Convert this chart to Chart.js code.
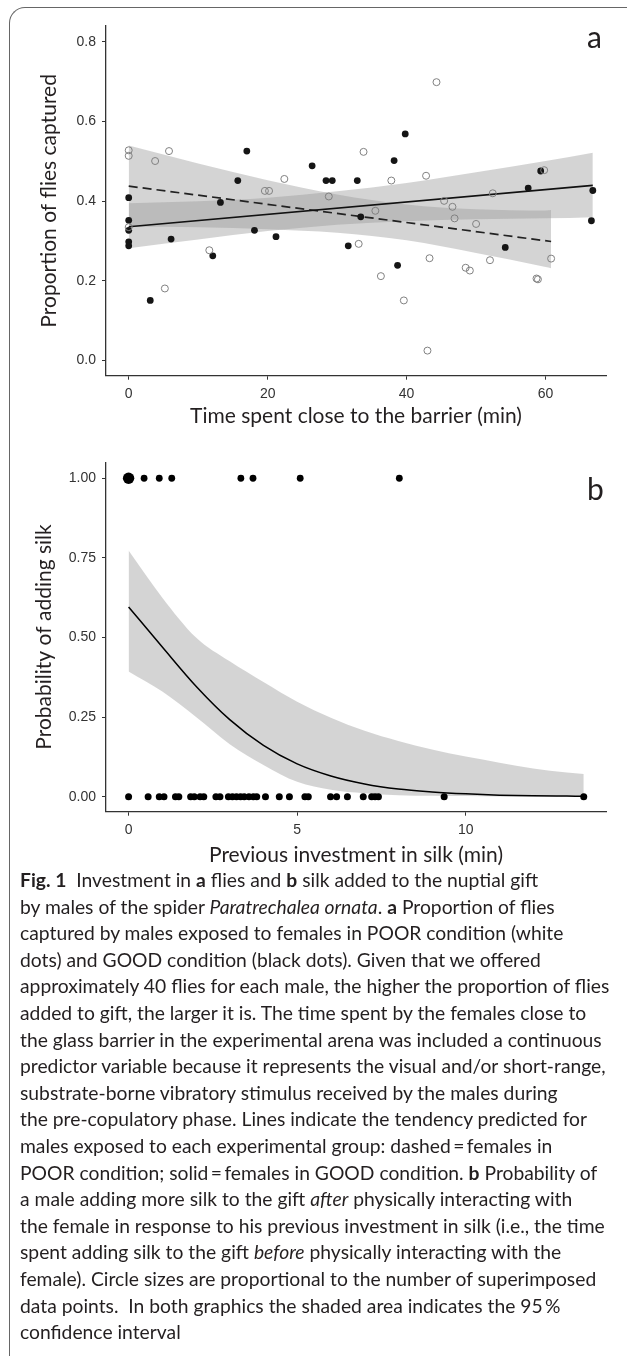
<!DOCTYPE html>
<html>
<head>
<meta charset="utf-8">
<script src="https://cdn.jsdelivr.net/npm/chart.js@4.4.0/dist/chart.umd.min.js"></script>
<style>
  html, body { margin: 0; padding: 0; background: #fff; }
  body { width: 627px; height: 1356px; position: relative; overflow: hidden; }
  .frame { position: absolute; left: 9px; top: 7px; width: 700px; height: 1400px;
           border-left: 1.5px solid #666; border-top: 1.5px solid #666; border-top-left-radius: 16px; }
  canvas { position: absolute; left: 0; }
  #myChart-a { top: 0; }
  #myChart-b { top: 430px; }
  .panel { position: absolute; font-family: Lato, sans-serif; font-size: 30px; line-height: 1; color: #231f20; }
  .caption { position: absolute; left: 20px; top: 867px; font-family: Lato, sans-serif; font-size: 19.3px;
             line-height: 26.6px; color: #231f20; white-space: nowrap; }
</style>
</head>
<body>
<div class="frame"></div>
<canvas id="myChart-a" width="627" height="430"></canvas>
<canvas id="myChart-b" width="627" height="445"></canvas>
<div class="panel" style="left:587px; top:21px;">a</div>
<div class="panel" style="left:587px; top:473px;">b</div>
<div class="caption">
<div><b>Fig. 1</b>&nbsp; Investment in <b>a</b> flies and <b>b</b> silk added to the nuptial gift</div>
<div>by males of the spider <i>Paratrechalea ornata</i>. <b>a</b> Proportion of flies</div>
<div>captured by males exposed to females in POOR condition (white</div>
<div>dots) and GOOD condition (black dots). Given that we offered</div>
<div>approximately 40 flies for each male, the higher the proportion of flies</div>
<div>added to gift, the larger it is. The time spent by the females close to</div>
<div>the glass barrier in the experimental arena was included a continuous</div>
<div>predictor variable because it represents the visual and/or short-range,</div>
<div>substrate-borne vibratory stimulus received by the males during</div>
<div>the pre-copulatory phase. Lines indicate the tendency predicted for</div>
<div>males exposed to each experimental group: dashed&thinsp;=&thinsp;females in</div>
<div>POOR condition; solid&thinsp;=&thinsp;females in GOOD condition. <b>b</b> Probability of</div>
<div>a male adding more silk to the gift <i>after</i> physically interacting with</div>
<div>the female in response to his previous investment in silk (i.e., the time</div>
<div>spent adding silk to the gift <i>before</i> physically interacting with the</div>
<div>female). Circle sizes are proportional to the number of superimposed</div>
<div>data points.&nbsp; In both graphics the shaded area indicates the 95&thinsp;%</div>
<div>confidence interval</div>
</div>

<script>
// ---- panel a: proportion of flies captured vs time near barrier
var poorX = [0, 0, 0, 3.8, 5.2, 5.8, 11.6, 19.6, 20.2, 22.4, 28.8, 33.1, 33.8, 35.5, 36.3, 37.8, 39.6,
             42.8, 43.0, 43.3, 44.3, 45.4, 46.6, 46.9, 48.5, 49.1, 50.0, 52.0, 52.4, 58.7, 58.9, 59.8, 60.8];
var poorY = [0.528, 0.514, 0.335, 0.501, 0.181, 0.526, 0.277, 0.426, 0.426, 0.456, 0.412, 0.293, 0.524, 0.376, 0.212, 0.452, 0.151,
             0.464, 0.025, 0.257, 0.699, 0.401, 0.386, 0.357, 0.233, 0.226, 0.343, 0.252, 0.420, 0.206, 0.204, 0.478, 0.256];
var goodX = [0, 0, 0, 0, 0, 3.1, 6.1, 12.1, 13.2, 15.7, 17.0, 18.1, 21.2, 26.4, 28.4, 29.3, 31.6, 32.9,
             33.4, 38.2, 38.7, 39.8, 54.2, 57.5, 59.3, 66.6, 66.8];
var goodY = [0.409, 0.352, 0.327, 0.298, 0.288, 0.151, 0.305, 0.263, 0.397, 0.452, 0.526, 0.327, 0.311, 0.489, 0.452, 0.452, 0.288, 0.452,
             0.361, 0.502, 0.239, 0.569, 0.284, 0.433, 0.476, 0.351, 0.427];

var goodFitX = [0, 66.8];
var goodFitY = [0.336, 0.440];
var poorFitX = [0, 60.8];
var poorFitY = [0.438, 0.299];

var goodBandX = [0, 10, 20, 30, 40, 50, 60, 66.8];
var goodUpper = [0.395, 0.400, 0.409, 0.425, 0.446, 0.473, 0.501, 0.522];
var goodLower = [0.282, 0.304, 0.325, 0.341, 0.350, 0.355, 0.357, 0.360];
var poorBandX = [0, 10, 20, 30, 40, 50, 60, 60.8];
var poorUpper = [0.540, 0.495, 0.453, 0.417, 0.392, 0.380, 0.377, 0.378];
var poorLower = [0.336, 0.335, 0.330, 0.321, 0.302, 0.270, 0.235, 0.232];

var xTicksA = [0, 20, 40, 60];
var yTicksA = [0, 0.2, 0.4, 0.6, 0.8];

// ---- panel b: probability of adding silk vs previous investment
var silkYesX = [0, 0.46, 0.91, 1.28, 3.33, 3.69, 5.09, 8.03];
var silkYesN = [2, 1, 1, 1, 1, 1, 1, 1];
var silkNoX = [0, 0.58, 0.91, 1.05, 1.39, 1.49, 1.84, 1.95, 2.12, 2.23, 2.59, 2.71, 2.96, 3.08, 3.20, 3.32, 3.43,
               3.57, 3.70, 3.80, 4.06, 4.47, 4.77, 5.23, 5.33, 5.99, 6.17, 6.49, 6.96, 7.21, 7.31, 7.41, 9.36, 13.50];

var silkFitX = [0, 1, 2, 3, 4, 5, 6, 7, 8, 9, 10, 11, 12, 13, 13.5];
var silkFitY = [0.596, 0.470, 0.347, 0.242, 0.161, 0.103, 0.065, 0.040, 0.024, 0.015, 0.009, 0.005, 0.003, 0.002, 0.0015];
var silkUpper = [0.773, 0.625, 0.500, 0.425, 0.360, 0.298, 0.248, 0.207, 0.175, 0.148, 0.126, 0.107, 0.089, 0.076, 0.071];
var silkLower = [0.393, 0.330, 0.250, 0.165, 0.100, 0.047, 0.022, 0.011, 0.005, 0.003, 0.002, 0.001, 0.0005, 0.0003, 0.0002];

var xTicksB = [0, 5, 10];
var yTicksB = [0, 0.25, 0.5, 0.75, 1];

function pts(xs, ys) {
  return xs.map(function (x, i) { return { x: x, y: ys[i] }; });
}
function flat(xs, v) {
  return xs.map(function (x) { return { x: x, y: v }; });
}

Chart.defaults.font.family = '"Liberation Sans", Arial, sans-serif';
Chart.defaults.font.size = 14;
Chart.defaults.color = '#333';

var bandFill = 'rgba(153,153,153,0.42)';
var titleFont = { family: 'Lato', size: 21 };

function axis(min, max, tickList, fmt, extra) {
  var o = {
    type: 'linear', min: min, max: max,
    afterBuildTicks: function (s) { s.ticks = tickList.map(function (v) { return { value: v }; }); },
    ticks: { padding: 6, color: '#333', callback: fmt },
    grid: { drawOnChartArea: false, drawTicks: true, tickLength: 4, tickColor: '#333', tickWidth: 1 },
    border: { display: true, color: '#333', width: 1.3 }
  };
  for (var k in extra) o[k] = extra[k];
  return o;
}

var ctx = document.getElementById('myChart-a');
var chartA = new Chart(ctx, {
  type: 'scatter',
  data: {
    datasets: [
      { label: 'POOR', data: pts(poorX, poorY), order: 0, pointRadius: 3.5, borderWidth: 1,
        borderColor: '#808080', backgroundColor: 'rgba(0,0,0,0)' },
      { label: 'GOOD', data: pts(goodX, goodY), order: 0, pointRadius: 3.4, borderWidth: 0,
        backgroundColor: '#151515' },
      { type: 'line', label: 'GOOD fit', data: pts(goodFitX, goodFitY), order: 1, pointRadius: 0,
        borderColor: '#111', borderWidth: 1.7, fill: false },
      { type: 'line', label: 'POOR fit', data: pts(poorFitX, poorFitY), order: 1, pointRadius: 0,
        borderColor: '#222', borderWidth: 1.7, borderDash: [9, 5], fill: false },
      { type: 'line', label: 'GOOD upper', data: pts(goodBandX, goodUpper), order: 2, pointRadius: 0,
        borderWidth: 0, cubicInterpolationMode: 'monotone', fill: false },
      { type: 'line', label: 'GOOD lower', data: pts(goodBandX, goodLower), order: 2, pointRadius: 0,
        borderWidth: 0, cubicInterpolationMode: 'monotone', fill: '-1', backgroundColor: bandFill },
      { type: 'line', label: 'POOR upper', data: pts(poorBandX, poorUpper), order: 2, pointRadius: 0,
        borderWidth: 0, cubicInterpolationMode: 'monotone', fill: false },
      { type: 'line', label: 'POOR lower', data: pts(poorBandX, poorLower), order: 2, pointRadius: 0,
        borderWidth: 0, cubicInterpolationMode: 'monotone', fill: '-1', backgroundColor: bandFill }
    ]
  },
  options: {
    responsive: false,
    animation: false,
    events: [],
    layout: { padding: { left: 0, right: 21, top: 26, bottom: 0 } },
    plugins: { legend: { display: false }, tooltip: { enabled: false } },
    scales: {
      x: axis(-3.27, 68.7, xTicksA, function (v) { return String(v); }, {
        afterFit: function (s) { s.height = 54.3; },
        title: { display: true, text: 'Time spent close to the barrier (min)', font: titleFont,
                 color: '#231f20', padding: { top: 0, bottom: 0.7 } }
      }),
      y: axis(-0.038, 0.84, yTicksA, function (v) { return v.toFixed(1); }, {
        afterFit: function (s) { s.width = 106; },
        title: { display: true, text: 'Proportion of flies captured', font: titleFont,
                 color: '#231f20', padding: { top: 37, bottom: 0 } }
      })
    }
  }
});

var ctx = document.getElementById('myChart-b');
var chartB = new Chart(ctx, {
  type: 'scatter',
  data: {
    datasets: [
      { label: 'added', data: flat(silkYesX, 1), order: 0, borderWidth: 0, backgroundColor: '#000',
        pointRadius: function (c) { return 3.4 + 2.3 * (silkYesN[c.dataIndex] - 1); } },
      { label: 'not added', data: flat(silkNoX, 0), order: 0, borderWidth: 0, backgroundColor: '#000',
        pointRadius: 3.5 },
      { type: 'line', label: 'fit', data: pts(silkFitX, silkFitY), order: 1, pointRadius: 0,
        borderColor: '#000', borderWidth: 1.5, cubicInterpolationMode: 'monotone', fill: false },
      { type: 'line', label: 'upper', data: pts(silkFitX, silkUpper), order: 2, pointRadius: 0,
        borderWidth: 0, cubicInterpolationMode: 'monotone', fill: false },
      { type: 'line', label: 'lower', data: pts(silkFitX, silkLower), order: 2, pointRadius: 0,
        borderWidth: 0, cubicInterpolationMode: 'monotone', fill: '-1', backgroundColor: bandFill }
    ]
  },
  options: {
    responsive: false,
    animation: false,
    events: [],
    layout: { padding: { left: 0, right: 21, top: 32.3, bottom: 0 } },
    plugins: { legend: { display: false }, tooltip: { enabled: false } },
    scales: {
      x: axis(-0.67, 14.16, xTicksB, function (v) { return String(v); }, {
        afterFit: function (s) { s.height = 63.3; },
        title: { display: true, text: 'Previous investment in silk (min)', font: titleFont,
                 color: '#231f20', padding: { top: 0, bottom: 7.4 } }
      }),
      y: axis(-0.047, 1.05, yTicksB, function (v) { return v.toFixed(2); }, {
        afterFit: function (s) { s.width = 106; },
        title: { display: true, text: 'Probability of adding silk', font: titleFont,
                 color: '#231f20', padding: { top: 32, bottom: 0 } }
      })
    }
  }
});
</script>
</body>
</html>
